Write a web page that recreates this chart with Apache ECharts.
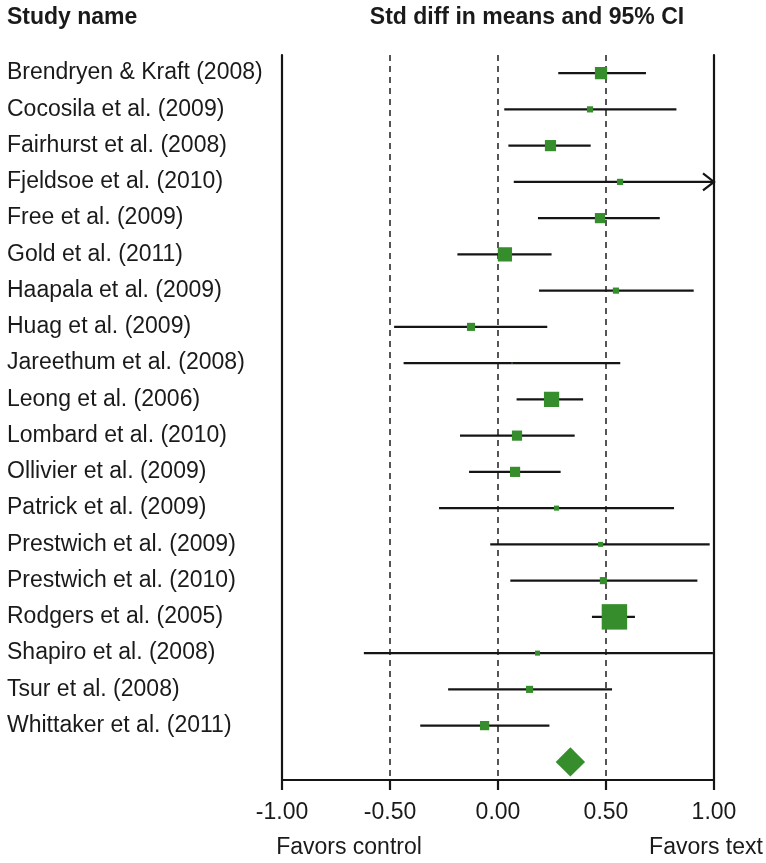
<!DOCTYPE html>
<html>
<head>
<meta charset="utf-8">
<title>Forest plot</title>
<script src="https://cdn.jsdelivr.net/npm/echarts@6/dist/echarts.min.js"></script>
<style>
  html, body { margin: 0; padding: 0; background: #fff; }
  #chart { width: 766px; height: 863px; }
</style>
</head>
<body>
<div id="chart"></div>
<script>
// study names (top to bottom), last row is the pooled summary
var studies = [
  'Brendryen & Kraft (2008)', 'Cocosila et al. (2009)', 'Fairhurst et al. (2008)',
  'Fjeldsoe et al. (2010)', 'Free et al. (2009)', 'Gold et al. (2011)',
  'Haapala et al. (2009)', 'Huag et al. (2009)', 'Jareethum et al. (2008)',
  'Leong et al. (2006)', 'Lombard et al. (2010)', 'Ollivier et al. (2009)',
  'Patrick et al. (2009)', 'Prestwich et al. (2009)', 'Prestwich et al. (2010)',
  'Rodgers et al. (2005)', 'Shapiro et al. (2008)', 'Tsur et al. (2008)',
  'Whittaker et al. (2011)'
]
// std diff in means
var estimate = [0.477, 0.426, 0.243, 0.565, 0.472, 0.032, 0.546, -0.125, 0.065, 0.248,
  0.088, 0.079, 0.271, 0.475, 0.488, 0.539, 0.183, 0.146, -0.062]
// 95% CI lower / upper
var lower = [0.279, 0.029, 0.048, 0.073, 0.185, -0.188, 0.190, -0.481, -0.437, 0.086,
  -0.176, -0.134, -0.273, -0.036, 0.057, 0.435, -0.621, -0.231, -0.360]
var upper = [0.685, 0.826, 0.429, 1.057, 0.749, 0.248, 0.906, 0.228, 0.566, 0.394,
  0.355, 0.290, 0.815, 0.980, 0.923, 0.634, 0.995, 0.528, 0.238]
// relative weight (%)
var weight = [7.1, 1.8, 5.9, 1.8, 4.9, 9.6, 1.8, 3.1, 0.1, 11.0,
  4.9, 4.9, 1.2, 1.2, 2.4, 30.6, 1.2, 2.4, 4.0]
// pooled summary: estimate, lower, upper
var summary = [0.335, 0.267, 0.403]
var refLines = [-0.5, 0, 0.5]

var GREEN = '#358d2b'
var INK = '#151515'
var FONT = '"Liberation Sans", Arial, Helvetica, sans-serif'

var chart = echarts.init(document.getElementById('chart'))

var categories = studies.concat([''])
var studyData = studies.map(function (s, i) {
  return [estimate[i], i, lower[i], upper[i], weight[i]]
})

function renderStudy(params, api) {
  var est = api.value(0)
  var row = api.value(1)
  var lo = Math.max(api.value(2), -1)
  var hiRaw = api.value(3)
  var hi = Math.min(hiRaw, 1)
  var p0 = api.coord([lo, row])
  var p1 = api.coord([hi, row])
  var pc = api.coord([est, row])
  var size = 4.6 * Math.sqrt(api.value(4))
  var children = [{
    type: 'line',
    shape: { x1: p0[0], y1: p0[1], x2: p1[0], y2: p1[1] },
    style: { stroke: INK, lineWidth: 2.2 }
  }]
  if (hiRaw > 1) {
    children.push({
      type: 'polyline',
      shape: { points: [[p1[0] - 11, p1[1] - 8.5], [p1[0], p1[1]], [p1[0] - 11, p1[1] + 8.5]] },
      style: { stroke: INK, lineWidth: 2.2, fill: null }
    })
  }
  children.push({
    type: 'rect',
    shape: { x: pc[0] - size / 2, y: pc[1] - size / 2, width: size, height: size },
    style: { fill: GREEN }
  })
  return { type: 'group', children: children }
}

function renderSummary(params, api) {
  var row = api.value(1)
  var c = api.coord([api.value(0), row])
  var l = api.coord([api.value(2), row])
  var r = api.coord([api.value(3), row])
  var h = 14.6
  return {
    type: 'polygon',
    shape: { points: [[l[0], c[1]], [c[0], c[1] - h], [r[0], c[1]], [c[0], c[1] + h]] },
    style: { fill: GREEN }
  }
}

var option = {
  animation: false,
  backgroundColor: '#fff',
  textStyle: { fontFamily: FONT },
  grid: { left: 282, right: 52, top: 55, height: 725 },
  xAxis: {
    type: 'value',
    min: -1,
    max: 1,
    interval: 0.5,
    axisLine: { show: true, lineStyle: { color: INK, width: 2.2 } },
    axisTick: { show: true, length: 10, lineStyle: { color: INK, width: 2.2 } },
    axisLabel: {
      margin: 21,
      fontSize: 23,
      color: '#1a1a1a',
      fontFamily: FONT,
      formatter: function (v) { return v.toFixed(2) }
    },
    splitLine: { show: false }
  },
  yAxis: [{
    type: 'category',
    data: categories,
    inverse: true,
    axisLine: { show: true, onZero: false, lineStyle: { color: INK, width: 2.2 } },
    axisTick: { show: false },
    axisLabel: {
      align: 'left',
      margin: 275,
      fontSize: 23,
      color: '#1a1a1a',
      fontFamily: FONT
    },
    splitLine: { show: false }
  }, {
    type: 'category',
    data: categories,
    inverse: true,
    position: 'right',
    axisLine: { show: true, onZero: false, lineStyle: { color: INK, width: 2.2 } },
    axisTick: { show: false },
    axisLabel: { show: false },
    splitLine: { show: false }
  }],
  graphic: [
    {
      type: 'text', x: 7, y: 18,
      style: { text: 'Study name', font: 'bold 23px ' + FONT, fill: '#1a1a1a', textAlign: 'left', textVerticalAlign: 'middle' }
    },
    {
      type: 'text', x: 527, y: 18,
      style: { text: 'Std diff in means and 95% CI', font: 'bold 23px ' + FONT, fill: '#1a1a1a', textAlign: 'center', textVerticalAlign: 'middle' }
    },
    {
      type: 'text', x: 349, y: 848,
      style: { text: 'Favors control', font: '23px ' + FONT, fill: '#1a1a1a', textAlign: 'center', textVerticalAlign: 'middle' }
    },
    {
      type: 'text', x: 706, y: 848,
      style: { text: 'Favors text', font: '23px ' + FONT, fill: '#1a1a1a', textAlign: 'center', textVerticalAlign: 'middle' }
    }
  ],
  series: [
    {
      type: 'line',
      data: [],
      silent: true,
      markLine: {
        silent: true,
        symbol: 'none',
        label: { show: false },
        lineStyle: { color: '#444', width: 1.8, type: [6, 5] },
        data: refLines.map(function (v) { return { xAxis: v } })
      }
    },
    {
      type: 'custom',
      renderItem: renderStudy,
      encode: { x: 0, y: 1 },
      data: studyData,
      z: 5
    },
    {
      type: 'custom',
      renderItem: renderSummary,
      encode: { x: 0, y: 1 },
      data: [[summary[0], studies.length, summary[1], summary[2]]],
      z: 5
    }
  ]
}

chart.setOption(option)
</script>
</body>
</html>
